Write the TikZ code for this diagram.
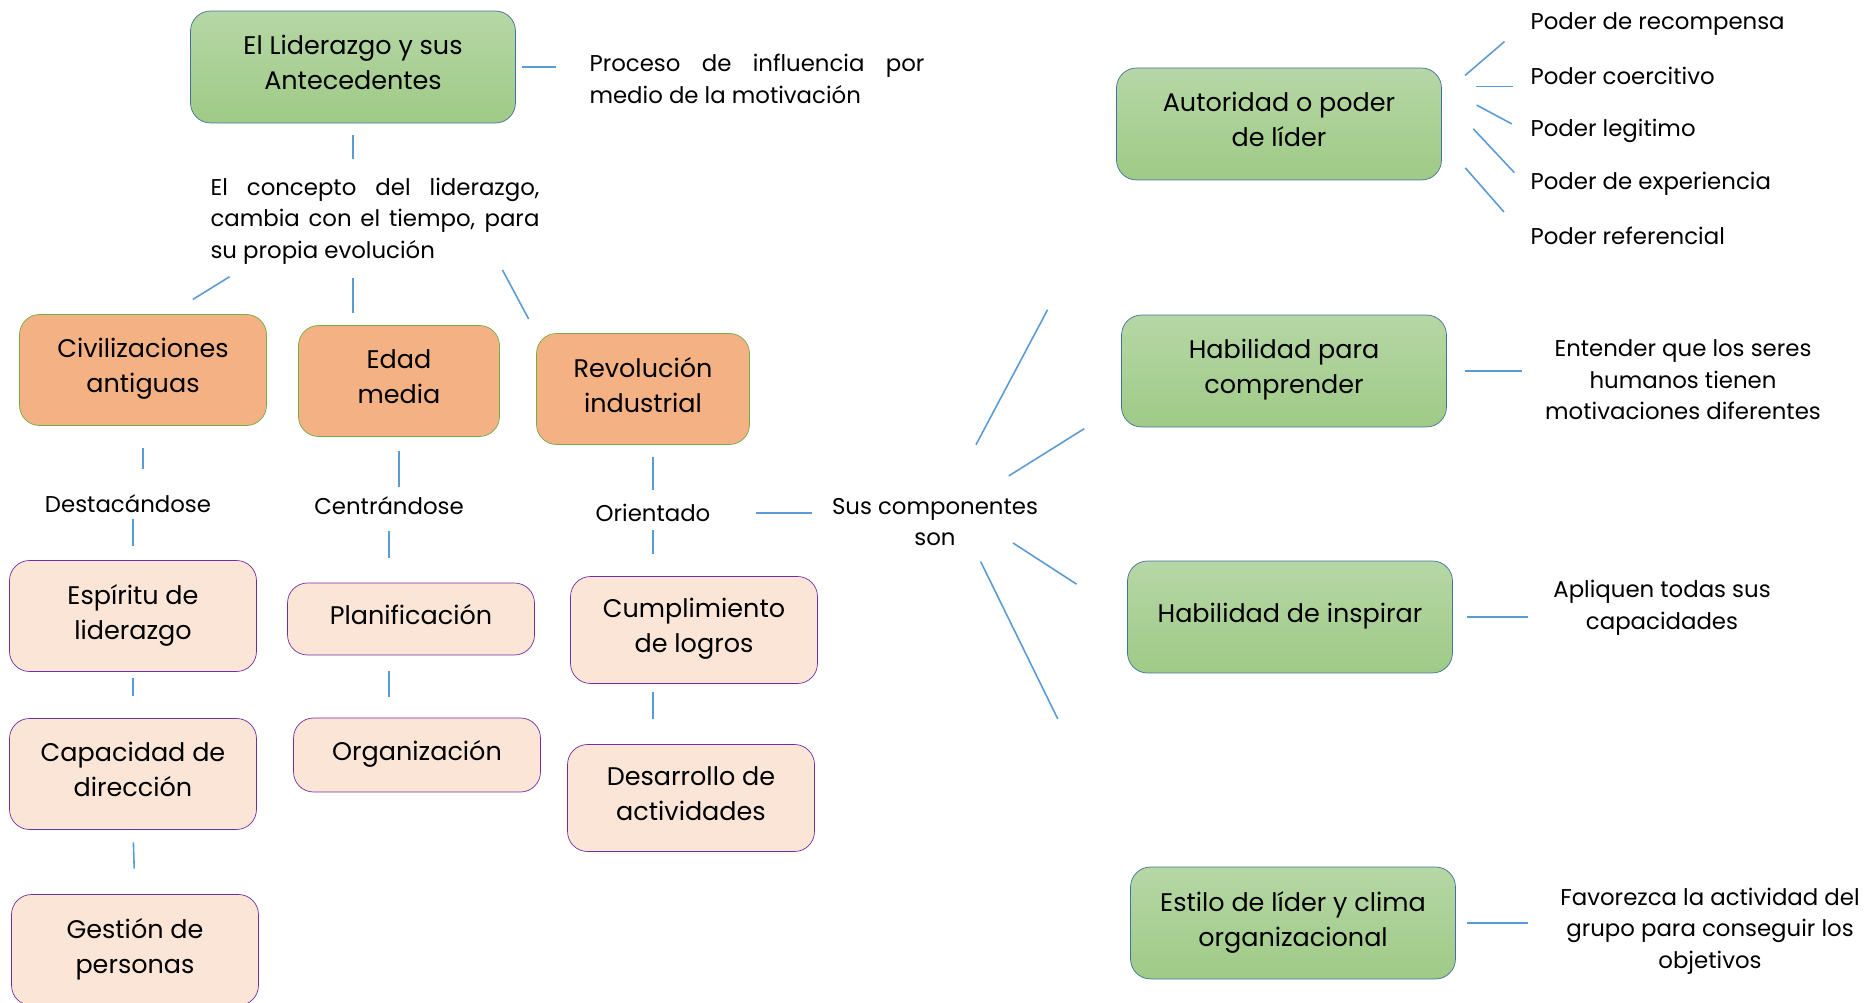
\documentclass[tikz,border=0pt]{standalone}
\usepackage{fontspec}
\setmainfont{Poppins}
\usepackage{tikz}
\usetikzlibrary{calc,positioning}
\definecolor{verdeA}{HTML}{B6D7A6}
\definecolor{verdeB}{HTML}{9FCA86}
\definecolor{bordeazul}{HTML}{41719C}
\definecolor{naranja}{HTML}{F4B183}
\definecolor{bordeverde}{HTML}{70AD47}
\definecolor{rosa}{HTML}{FBE5D6}
\definecolor{morado}{HTML}{7030A0}
\definecolor{celeste}{HTML}{5B9BD5}
\tikzset{
    lider/.style={
    rectangle,rounded corners=0.4cm,draw=bordeazul,top color=verdeA,bottom color=verdeB,
    minimum width=6.5cm,minimum height=2.24cm,align=center,text depth=5pt,
    font=\fontsize{14.5}{20}\selectfont
    },
    epoca/.style={
    rectangle,rounded corners=0.4cm,draw=bordeverde,fill=naranja,
    minimum height=2.22cm,align=center,text depth=5pt,font=\fontsize{14.5}{20}\selectfont
    },
    rasgo/.style={
    rectangle,rounded corners=0.4cm,draw=morado,fill=rosa,
    minimum width=4.94cm,minimum height=2.22cm,align=center,text depth=5pt,
    font=\fontsize{14.5}{20}\selectfont
    },
    nota/.style={align=center,inner sep=3pt,font=\fontsize{13}{18}\selectfont},
  line/.style={draw=celeste, line width=0.9pt}
}

\begin{document}
\begin{tikzpicture}[x=0.02cm,y=-0.02cm]
    \useasboundingbox (0,0) rectangle (1872,1003);

    % left side
    \node[lider] (top) at (353,67) {El Liderazgo y sus\\Antecedentes};
    \node[nota,text width=6.7cm,align=justify] (proc) at (757,79) {Proceso de influencia por\linebreak medio de la motivación};
    \node[nota,text width=6.58cm,align=justify] (conc) at (375,221) {El concepto del liderazgo,\linebreak cambia con el tiempo, para\linebreak su propia evolución};

    \node[epoca,minimum width=4.94cm] (civ) at (143,370) {Civilizaciones\\antiguas};
    \node[epoca,minimum width=4.02cm] (edad) at (399,381) {Edad\\media};
    \node[epoca,minimum width=4.26cm] (rev) at (643,389) {Revolución\\industrial};

    \node[nota] (dest) at (128,504) {Destacándose};
    \node[nota] (centr) at (389,506) {Centrándose};
    \node[nota] (orient) at (653,513) {Orientado};

    \node[rasgo] (esp) at (133,616) {Espíritu de\\liderazgo};
    \node[rasgo] (capa) at (133,774) {Capacidad de\\dirección};
    \node[rasgo] (gest) at (135,950) {Gestión de\\personas};
    \node[rasgo,minimum height=1.44cm] (plan) at (411,619) {Planificación};
    \node[rasgo,minimum height=1.48cm] (orga) at (417,755) {Organización};
    \node[rasgo,minimum height=2.14cm] (cump) at (694,630) {Cumplimiento\\de logros};
    \node[rasgo,minimum height=2.14cm] (desa) at (691,798) {Desarrollo de\\actividades};

    % right side
    \node[nota] (sus) at (935,522) {Sus componentes\\son};

    \node[lider] (auto) at (1279,124) {Autoridad o poder\\de líder};
    \node[lider] (hcomp) at (1284,371) {Habilidad para\\comprender};
    \node[lider] (hinsp) at (1290,617) {Habilidad de inspirar};
    \node[lider] (estilo) at (1293,923) {Estilo de líder y clima\\organizacional};

    \node[nota,anchor=west] (p1) at (1525,24) {Poder de recompensa};
    \node[nota,anchor=west] (p2) at (1525,76) {Poder coercitivo};
    \node[nota,anchor=west] (p3) at (1525,131) {Poder legitimo};
    \node[nota,anchor=west] (p4) at (1525,184) {Poder de experiencia};
    \node[nota,anchor=west] (p5) at (1525,236) {Poder referencial};

    \node[nota] (ent) at (1683,380) {Entender que los seres\\humanos tienen\\motivaciones diferentes};
    \node[nota] (apl) at (1662,608) {Apliquen todas sus\\capacidades};
    \node[nota] (fav) at (1710,931) {Favorezca la actividad del\\grupo para conseguir los\\objetivos};

    \begin{scope} [every path/.style=line]
      \path[shorten <=0.12cm,shorten >=4.02cm] (top.east) -- (top.east -| proc);
      \path[shorten <=0.24cm,shorten >=1.24cm] (top.south) -- (top.south |- conc);
      \path[shorten <=1.14cm,shorten >=0.24cm] (top.south |- conc) -- (top.south |- edad.north);
      \path[shorten <=0.26cm,shorten >=0.56cm] (conc.200) -- (civ.65);
      \path[shorten >=0.32cm] (conc.-21) -- (rev.north west);

      \path[shorten <=0.45cm,shorten >=0.7cm] (civ.south) -- (civ.south |- dest);
      \path[shorten <=0.3cm,shorten >=0.29cm] (esp.north |- dest) -- (esp.north);
      \path[shorten <=0.13cm,shorten >=0.45cm] (esp.south) -- (capa.north);
      \path[shorten <=0.25cm,shorten >=0.51cm] (capa.south) -- (gest.north);

      \path[shorten <=0.28cm,shorten >=0.38cm] (edad.south) -- (edad.south |- centr);
      \path[shorten <=0.5cm,shorten >=0.5cm] (centr.center) -- (centr |- plan.north);
      \path[shorten <=0.32cm,shorten >=0.42cm] (centr |- plan.south) -- (centr |- orga.north);

      \path[shorten <=0.25cm,shorten >=0.46cm] (orient |- rev.south) -- (orient.center);
      \path[shorten <=0.34cm,shorten >=0.45cm] (orient.center) -- (orient |- cump.north);
      \path[shorten <=0.17cm,shorten >=0.51cm] (orient |- cump.south) -- (orient |- desa.north);
      \path[shorten <=2.06cm,shorten >=2.46cm] (orient.center) -- (orient -| sus);

      \path[shorten <=1.75cm,shorten >=2.93cm] (sus.center) -- (auto.south west);
      \path[shorten <=1.74cm,shorten >=0.87cm] (sus.center) -- (hcomp.192);
      \path[shorten <=1.86cm,shorten >=1.21cm] (sus.north) -- (hinsp.west);
      \path[shorten <=0.22cm,shorten >=3.29cm] (sus.-36) -- (estilo.north west);

      \path[shorten <=0.61cm,shorten >=0.54cm] (auto.10) -- (p1.west);
      \path[shorten <=0.68cm,shorten >=0.24cm] (auto.13) -- (auto.13 -| p2.west);
      \path[shorten <=0.79cm,shorten >=0.3cm] (auto.13) -- (p3.west);
      \path[shorten <=0.92cm,shorten >=0.31cm] (auto.10) -- (p4.west);
      \path[shorten <=0.71cm,shorten >=0.64cm] (auto.-6) -- (p5.west);

      \path[shorten <=0.36cm,shorten >=3.22cm] (hcomp.east) -- (hcomp.east -| ent);
      \path[shorten <=0.28cm,shorten >=2.68cm] (hinsp.east) -- (hinsp.east -| apl);
      \path[shorten <=0.22cm,shorten >=3.64cm] (estilo.east) -- (estilo.east -| fav);
    \end{scope}
\end{tikzpicture}
\end{document}
